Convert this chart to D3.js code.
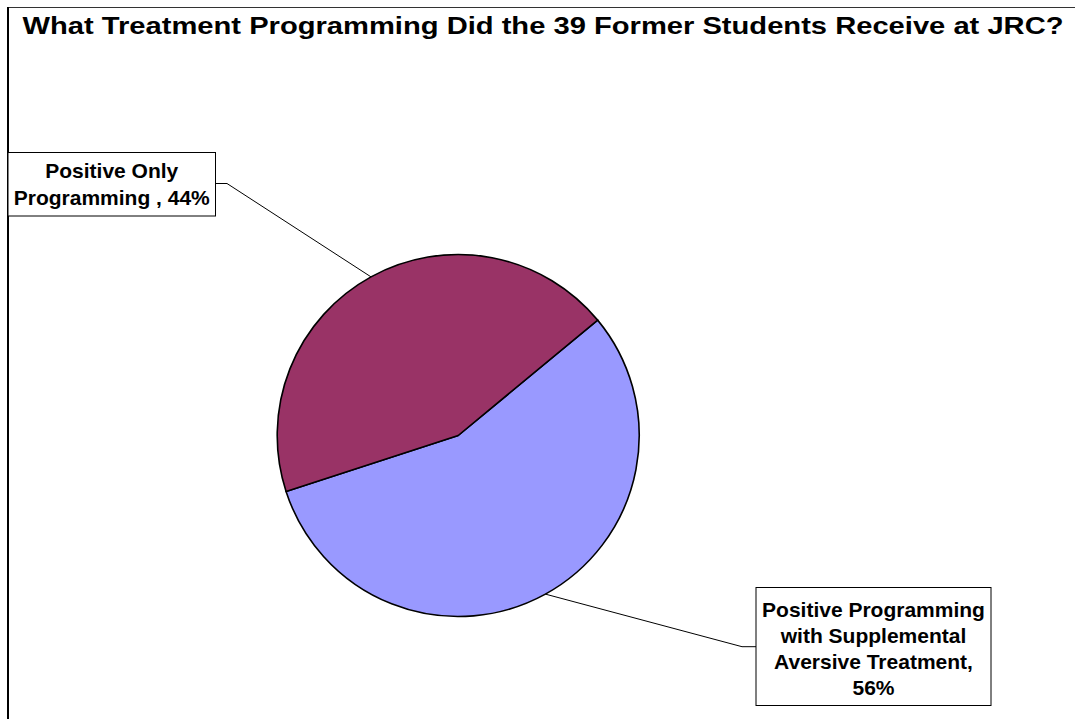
<!DOCTYPE html>
<html>
<head>
<meta charset="utf-8">
<script src="https://cdn.jsdelivr.net/npm/d3@7"></script>
<style>
  html, body { margin: 0; padding: 0; background: #fff; }
  svg { display: block; }
  text { font-family: "Liberation Sans", Arial, sans-serif; font-weight: bold; fill: #000; }
</style>
</head>
<body>
<svg id="chart" width="1075" height="719"></svg>
<script>
const title = "What Treatment Programming Did the 39 Former Students Receive at JRC?";
const categories = ["Positive Programming with Supplemental Aversive Treatment", "Positive Only Programming "];
const values = [56, 44];
const colors = ["#9999FF", "#993366"];
const labelLines = [
  ["Positive Programming", "with Supplemental", "Aversive Treatment,", "56%"],
  ["Positive Only", "Programming , 44%"]
];

const svg = d3.select("#chart");
const W = 1075, H = 719;
svg.append("rect").attr("width", W).attr("height", H).attr("fill", "#fff");

// chart border (extends beyond the window at right and bottom)
svg.append("line").attr("x1", 8).attr("y1", 7.5).attr("x2", W + 5).attr("y2", 7.5)
  .attr("stroke", "#333").attr("stroke-width", 1);
svg.append("line").attr("x1", 8).attr("y1", 7).attr("x2", 8).attr("y2", H + 5)
  .attr("stroke", "#000").attr("stroke-width", 2);

// title (stretched horizontally like the original)
svg.append("text").attr("x", 22.5).attr("y", 34).attr("text-anchor", "start")
  .attr("textLength", 1041).attr("lengthAdjust", "spacingAndGlyphs")
  .style("font-size", "24px").text(title);

// pie
const cx = 458.2, cy = 435.5, R = 181;
const startDeg = 50.4;
const pie = d3.pie().sort(null).value(d => d)
  .startAngle(startDeg * Math.PI / 180)
  .endAngle((startDeg + 360) * Math.PI / 180);
const arcs = pie(values);
const arc = d3.arc().innerRadius(0).outerRadius(R);
const g = svg.append("g").attr("transform", `translate(${cx},${cy})`);
g.selectAll("path").data(arcs).join("path")
  .attr("d", arc)
  .attr("fill", (d, i) => colors[i])
  .attr("stroke", "#000").attr("stroke-width", 1.6).attr("stroke-linejoin", "round");

// label boxes
const boxes = [
  { x: 756, y: 587.5, w: 235, h: 118, first: 616.5, step: 26.3, elbowX: 742, elbowY: 646.7, side: "left" },
  { x: 8, y: 152.5, w: 207.5, h: 63.5, first: 177.8, step: 27, elbowX: 227, elbowY: 183.5, side: "right" }
];

arcs.forEach((a, i) => {
  const b = boxes[i];
  const mid = (a.startAngle + a.endAngle) / 2;
  const px = cx + R * Math.sin(mid), py = cy - R * Math.cos(mid);
  const bx = b.side === "left" ? b.x : b.x + b.w;
  svg.append("polyline")
    .attr("points", `${px},${py} ${b.elbowX},${b.elbowY} ${bx},${b.elbowY}`)
    .attr("fill", "none").attr("stroke", "#000").attr("stroke-width", 1);
  svg.append("rect").attr("x", b.x).attr("y", b.y).attr("width", b.w).attr("height", b.h)
    .attr("fill", "#fff").attr("stroke", "#000").attr("stroke-width", 1);
  const t = svg.append("text").attr("text-anchor", "middle").style("font-size", "21px");
  labelLines[i].forEach((ln, j) => {
    t.append("tspan").attr("x", b.x + b.w / 2).attr("y", b.first + j * b.step).text(ln);
  });
});
</script>
</body>
</html>
